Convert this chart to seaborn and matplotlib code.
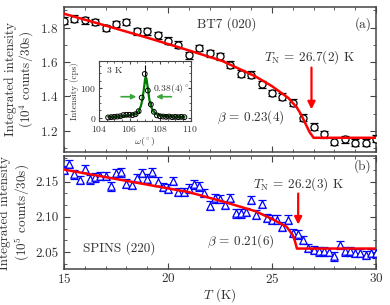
import matplotlib
matplotlib.use("Agg")
import matplotlib.pyplot as plt
import seaborn as sns
import pandas as pd
from matplotlib.ticker import MultipleLocator, AutoMinorLocator

# ---- panel (a): BT7 (020), intensity in 10^4 counts/30s ----
bt7_T = [15.0, 15.5, 16.0, 16.5, 17.0, 17.5, 18.0, 18.5, 19.0, 19.5, 20.0,
         20.5, 21.0, 21.5, 22.0, 22.5, 23.0, 23.5, 24.0, 24.5, 25.0, 25.5,
         26.0, 26.5, 27.0, 27.5, 28.0, 28.5, 29.0, 29.5, 30.0]
bt7_I = [1.840, 1.852, 1.842, 1.833, 1.798, 1.821, 1.833, 1.779, 1.779, 1.755, 1.723,
         1.700, 1.640, 1.682, 1.650, 1.634, 1.585, 1.533, 1.527, 1.470, 1.420, 1.398,
         1.363, 1.276, 1.224, 1.180, 1.137, 1.151, 1.132, 1.132, 1.155]
bt7_err = [0.02] * len(bt7_T)
bt7_fit_T = [15.0, 17.0, 19.0, 21.0, 22.6, 24.2, 25.0, 25.8, 26.2, 26.4, 26.6, 26.8, 27.0, 30.0]
bt7_fit_I = [1.881, 1.812, 1.742, 1.668, 1.607, 1.517, 1.460, 1.390, 1.335, 1.295, 1.245, 1.195, 1.160, 1.160]

# ---- panel (b): SPINS (220), intensity in 10^5 counts/30s ----
spins_T = [15.0, 15.25, 15.5, 15.75, 16.0, 16.25, 16.5, 16.75, 17.0, 17.25, 17.5,
           17.75, 18.0, 18.25, 18.5, 18.75, 19.0, 19.25, 19.5, 19.75, 20.0, 20.25,
           20.5, 20.75, 21.0, 21.25, 21.5, 21.75, 22.0, 22.25, 22.5, 22.75, 23.0,
           23.25, 23.5, 23.75, 24.0, 24.25, 24.5, 24.75, 25.0, 25.25, 25.5, 25.75,
           26.0, 26.25, 26.5, 26.75, 27.0, 27.25, 27.5, 27.75, 28.0, 28.25, 28.5,
           28.75, 29.0, 29.25, 29.5, 29.75, 30.0]
spins_I = [2.166, 2.175, 2.160, 2.152, 2.168, 2.153, 2.156, 2.158, 2.158, 2.143, 2.162,
           2.163, 2.147, 2.145, 2.155, 2.162, 2.154, 2.163, 2.150, 2.142, 2.140, 2.151,
           2.135, 2.135, 2.140, 2.146, 2.143, 2.134, 2.116, 2.126, 2.125, 2.117, 2.127,
           2.105, 2.105, 2.107, 2.124, 2.103, 2.118, 2.098, 2.096, 2.096, 2.086, 2.096,
           2.077, 2.075, 2.067, 2.056, 2.053, 2.051, 2.051, 2.050, 2.044, 2.060, 2.051,
           2.051, 2.049, 2.049, 2.046, 2.049, 2.048]
spins_err = [0.006] * len(spins_T)
spins_fit_T = [15.0, 18.0, 21.0, 22.6, 24.2, 25.0, 25.7, 26.0, 26.1, 26.2, 30.0]
spins_fit_I = [2.167, 2.151, 2.135, 2.122, 2.108, 2.097, 2.086, 2.074, 2.066, 2.055, 2.055]

# ---- inset: rocking curve at 3 K ----
omega = [104.6, 104.8, 105.0, 105.2, 105.4, 105.6, 105.8, 106.0, 106.2, 106.4, 106.6,
         106.8, 107.0, 107.2, 107.4, 107.6, 107.8, 108.0, 108.2, 108.4, 108.6, 108.8,
         109.0, 109.2, 109.4, 109.6]
omega_I = [1, 2, 3, 4, 5, 9, 10, 10, 9, 12, 22, 68, 148, 92, 45, 20, 8, 5, 4, 3, 4, 2,
           3, 2, 3, 2]
omega_err = [3, 3, 3, 3, 3, 3, 3, 3, 3, 4, 6, 10, 30, 12, 8, 5, 3, 3, 3, 3, 3, 3, 3, 3, 3, 3]
omega_fit = [104.6, 105.5, 106.0, 106.4, 106.6, 106.75, 106.85, 106.95, 107.02, 107.07,
             107.12, 107.2, 107.3, 107.4, 107.55, 107.75, 108.2, 109.0, 109.6]
omega_fit_I = [3, 5, 8, 14, 22, 40, 62, 100, 130, 138, 130, 100, 62, 40, 22, 12, 6, 4, 3]

sns.set_style("ticks")
plt.rcParams["font.family"] = ["cmr10", "DejaVu Serif"]
plt.rcParams["mathtext.fontset"] = "cm"
plt.rcParams["axes.unicode_minus"] = False
plt.rcParams["axes.formatter.use_mathtext"] = True

txt = "#333333"
edge = "#444444"
fs = 9.5

fig = plt.figure(figsize=(3.9, 3.05), dpi=100)
ax1 = fig.add_axes([0.164, 0.502, 0.800, 0.475])
ax2 = fig.add_axes([0.164, 0.118, 0.800, 0.370])


def style(ax):
    for s in ax.spines.values():
        s.set_color(edge)
        s.set_linewidth(1.1)
    ax.tick_params(which="both", direction="in", top=True, right=True,
                   colors=edge, labelcolor=txt, labelsize=fs, pad=4)
    ax.tick_params(axis="x", pad=2)
    ax.tick_params(which="major", length=4)
    ax.tick_params(which="minor", length=2)


# panel (a)
ax1.errorbar(bt7_T, bt7_I, yerr=bt7_err, fmt="none", ecolor="black",
             elinewidth=0.9, capsize=3.2, capthick=0.9, zorder=2)
sns.scatterplot(x=bt7_T, y=bt7_I, ax=ax1, marker="o", s=26, facecolor="white",
                edgecolor="black", linewidth=0.9, zorder=3)
sns.lineplot(x=bt7_fit_T, y=bt7_fit_I, ax=ax1, color="red", linewidth=1.8,
             sort=False, zorder=4)
ax1.set_xlim(15, 30)
ax1.set_ylim(1.078, 1.92)
ax1.xaxis.set_major_locator(MultipleLocator(5))
ax1.xaxis.set_minor_locator(MultipleLocator(1))
ax1.yaxis.set_major_locator(MultipleLocator(0.2))
ax1.yaxis.set_minor_locator(MultipleLocator(0.1))
ax1.set_xticklabels([])
ax1.set_ylabel("Integrated intensity\n(10$^4$ counts/30s)", fontsize=fs,
               color=txt, labelpad=3, linespacing=1.05)
style(ax1)
ax1.text(22.8, 1.82, "BT7 (020)", fontsize=fs, color=txt, ha="center", va="center")
ax1.text(29.8, 1.82, "(a)", fontsize=fs, color=txt, ha="right", va="center")
ax1.text(26.8, 1.626, r"$T_{\rm N}$ = 26.7(2) K", fontsize=fs, color=txt,
         ha="center", va="center")
ax1.text(24.0, 1.278, r"$\beta$ = 0.23(4)", fontsize=fs, color=txt,
         ha="center", va="center")
ax1.annotate("", xy=(26.9, 1.325), xytext=(26.9, 1.568),
             arrowprops=dict(arrowstyle="-|>", color="red", lw=1.6,
                             mutation_scale=11, shrinkA=0, shrinkB=0))

# inset
axi = fig.add_axes([99 / 390, 1 - 121 / 305, 91.5 / 390, 59.5 / 305])
axi.errorbar(omega, omega_I, yerr=omega_err, fmt="none", ecolor="black",
             elinewidth=0.8, capsize=0, zorder=2)
sns.lineplot(x=omega_fit, y=omega_fit_I, ax=axi, color="#007a00", linewidth=1.6,
             sort=False, zorder=3)
sns.scatterplot(x=omega, y=omega_I, ax=axi, marker="o", s=12, facecolor="none",
                edgecolor="black", linewidth=0.7, zorder=4)
axi.set_xlim(104, 110)
axi.set_ylim(-11, 190)
axi.xaxis.set_major_locator(MultipleLocator(2))
axi.xaxis.set_minor_locator(MultipleLocator(0.5))
axi.yaxis.set_major_locator(MultipleLocator(100))
axi.yaxis.set_minor_locator(MultipleLocator(25))
style(axi)
axi.tick_params(labelsize=7, pad=2)
axi.tick_params(which="major", length=2.5)
axi.tick_params(which="minor", length=1.3)
for s in axi.spines.values():
    s.set_linewidth(0.8)
axi.set_xlabel(r"$\omega(^\circ)$", fontsize=7, color=txt, labelpad=1)
axi.set_ylabel("Intensity (cps)", fontsize=6.5, color=txt, labelpad=1)
axi.text(104.5, 160, "3 K", fontsize=7, color=txt, ha="left", va="center")
axi.text(107.55, 100, r"0.38(4)$^\circ$", fontsize=7, color=txt,
         ha="left", va="center")
axi.annotate("", xy=(106.45, 71), xytext=(105.45, 71),
             arrowprops=dict(arrowstyle="-|>", color="#3ca63c", lw=1.2,
                             mutation_scale=7, shrinkA=0, shrinkB=0))
axi.annotate("", xy=(107.75, 71), xytext=(108.75, 71),
             arrowprops=dict(arrowstyle="-|>", color="#3ca63c", lw=1.2,
                             mutation_scale=7, shrinkA=0, shrinkB=0))

# panel (b)
ax2.errorbar(spins_T, spins_I, yerr=spins_err, fmt="none", ecolor="blue",
             elinewidth=0.9, capsize=3.2, capthick=0.9, zorder=2)
sns.scatterplot(x=spins_T, y=spins_I, ax=ax2, marker="^", s=28, facecolor="white",
                edgecolor="blue", linewidth=0.9, zorder=3)
sns.lineplot(x=spins_fit_T, y=spins_fit_I, ax=ax2, color="red", linewidth=1.8,
             sort=False, zorder=4)
ax2.set_xlim(15, 30)
ax2.set_ylim(2.026, 2.186)
ax2.xaxis.set_major_locator(MultipleLocator(5))
ax2.xaxis.set_minor_locator(MultipleLocator(1))
ax2.yaxis.set_major_locator(MultipleLocator(0.05))
ax2.yaxis.set_minor_locator(AutoMinorLocator(3))
ax2.yaxis.set_major_formatter(matplotlib.ticker.FormatStrFormatter("%.2f"))
ax2.set_ylabel("Integrated intensity\n(10$^5$ counts/30s)", fontsize=fs,
               color=txt, labelpad=3, linespacing=1.05)
ax2.set_xlabel(r"$T$ (K)", fontsize=fs, color=txt, labelpad=0.5)
style(ax2)
ax2.text(29.8, 2.172, "(b)", fontsize=fs, color=txt, ha="right", va="center")
ax2.text(26.25, 2.146, r"$T_{\rm N}$ = 26.2(3) K", fontsize=fs, color=txt,
         ha="center", va="center")
ax2.text(23.5, 2.066, r"$\beta$ = 0.21(6)", fontsize=fs, color=txt,
         ha="center", va="center")
ax2.text(17.65, 2.0557, "SPINS (220)", fontsize=fs, color=txt,
         ha="center", va="center")
ax2.annotate("", xy=(26.26, 2.089), xytext=(26.26, 2.133),
             arrowprops=dict(arrowstyle="-|>", color="red", lw=1.6,
                             mutation_scale=11, shrinkA=0, shrinkB=0))

fig.savefig("out.png", dpi=100)
